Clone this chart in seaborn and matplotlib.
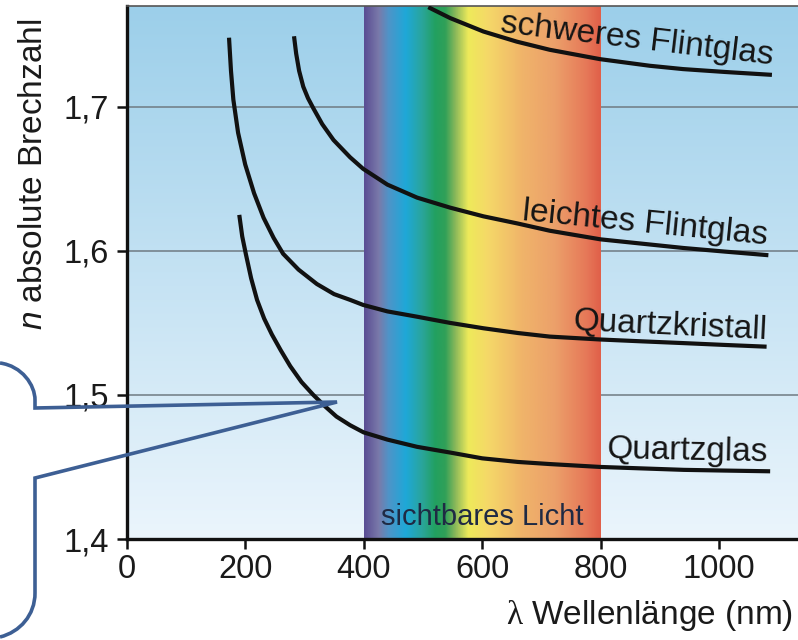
import numpy as np
import pandas as pd
import matplotlib
matplotlib.use("Agg")
import matplotlib.pyplot as plt
import seaborn as sns
from matplotlib.path import Path
from matplotlib.patches import PathPatch
from matplotlib.transforms import Affine2D
from matplotlib.colors import LinearSegmentedColormap

# ---------------- data ----------------
quartzglas_wl = [190, 195, 201, 210, 220, 232, 245, 260, 276, 295, 315, 335, 354, 377, 400,
                 440, 490, 546, 600, 660, 715, 800, 870, 940, 1010, 1086]
quartzglas_n = [1.625, 1.610, 1.598, 1.581, 1.566, 1.553, 1.542, 1.531, 1.520, 1.509, 1.500,
                1.492, 1.485, 1.479, 1.474, 1.469, 1.464, 1.460, 1.456, 1.4535, 1.452, 1.450,
                1.449, 1.448, 1.4475, 1.447]

quartzkristall_wl = [172.7, 176, 180, 188, 200, 215, 231, 248, 264, 290, 321, 350, 377, 399,
                     440, 489, 546, 602, 660, 714, 799, 870, 939, 1010, 1080]
quartzkristall_n = [1.748, 1.725, 1.705, 1.682, 1.660, 1.640, 1.623, 1.609, 1.598, 1.587,
                    1.577, 1.570, 1.566, 1.5625, 1.558, 1.5544, 1.5500, 1.5463, 1.543, 1.5405,
                    1.5385, 1.5372, 1.536, 1.5347, 1.5335]

leicht_wl = [282.4, 286, 291, 298, 306, 315, 330, 349, 377, 399, 440, 490, 546, 602, 660,
             714, 800, 870, 940, 1010, 1083]
leicht_n = [1.749, 1.737, 1.725, 1.714, 1.706, 1.699, 1.688, 1.677, 1.665, 1.657, 1.646,
            1.637, 1.630, 1.624, 1.619, 1.614, 1.608, 1.605, 1.602, 1.5995, 1.597]

schwer_wl = [509, 546, 602, 658, 714, 799, 883, 939, 1010, 1089]
schwer_n = [1.7692, 1.7616, 1.7523, 1.7453, 1.7396, 1.7331, 1.7285, 1.7262, 1.7242, 1.7222]

glass_names = ["Quartzglas", "Quartzkristall", "leichtes Flintglas", "schweres Flintglas"]
# label anchor (baseline centre) in data units and screen rotation
label_wl = [946, 917, 873, 860]
label_n = [1.4549, 1.5419, 1.6128, 1.7408]
label_rot = [-1.2, -2.7, -5.7, -6.8]

x_ticks = [0, 200, 400, 600, 800, 1000]
y_ticks = [1.4, 1.5, 1.6, 1.7]
y_tick_labels = ["1,4", "1,5", "1,6", "1,7"]

visible_range = [400, 800]
spectrum_nm = [400, 424, 441, 470, 498, 520, 537, 554, 576, 610, 667, 723, 777, 800]
spectrum_col = ["#5a4e94", "#7a7aaa", "#4e94c8", "#1ea8d8", "#2aa59a", "#22a060", "#30a058",
                "#8ab85a", "#eeea5a", "#f5d868", "#f0b46a", "#eca06a", "#e67858", "#e0604a"]

XMIN, XMAX = 0, 1133
YMIN, YMAX = 1.4, 1.770

# ---------------- style ----------------
sns.set_style("ticks")
plt.rcParams["font.family"] = ["Liberation Sans", "DejaVu Sans"]
plt.rcParams["mathtext.fontset"] = "custom"
plt.rcParams["mathtext.it"] = "Liberation Sans:italic"
plt.rcParams["mathtext.rm"] = "Liberation Serif"

W, H = 798, 640
fig = plt.figure(figsize=(W / 100, H / 100), dpi=100)
ax = fig.add_axes([126.7 / W, 1 - 539 / H, 1 - 126.7 / W, (539 - 6) / H])

# background gradient
bg = LinearSegmentedColormap.from_list("bg", ["#9ccfea", "#c4e2f3", "#ebf5fc"])
grad = np.linspace(0, 1, 256).reshape(-1, 1)
ax.imshow(grad, extent=[XMIN, XMAX, YMIN, YMAX], aspect="auto", cmap=bg,
          origin="upper", zorder=0, interpolation="bilinear")

# visible spectrum band
pos = [(v - visible_range[0]) / (visible_range[1] - visible_range[0]) for v in spectrum_nm]
spec = LinearSegmentedColormap.from_list("spec", list(zip(pos, spectrum_col)))
ax.imshow(np.linspace(0, 1, 600).reshape(1, -1), extent=[visible_range[0], visible_range[1], YMIN, YMAX],
          aspect="auto", cmap=spec, zorder=1, interpolation="bilinear")

# curves
series = [(quartzglas_wl, quartzglas_n), (quartzkristall_wl, quartzkristall_n),
          (leicht_wl, leicht_n), (schwer_wl, schwer_n)]
frames = []
for name, (wl, n) in zip(glass_names, series):
    frames.append(pd.DataFrame({"wl": wl, "n": n, "glas": name}))
df = pd.concat(frames, ignore_index=True)
for name in glass_names:
    sub = df[df["glas"] == name]
    sns.lineplot(data=sub, x="wl", y="n", ax=ax, color="#111111", lw=3.0,
                 estimator=None, sort=True, zorder=3, solid_capstyle="butt",
                 solid_joinstyle="round")

for name, lx, ly, r in zip(glass_names, label_wl, label_n, label_rot):
    ax.text(lx, ly, name, fontsize=24, rotation=r, rotation_mode="anchor",
            ha="center", va="baseline", color="#151515", zorder=4)

ax.text(600, 1.4097, "sichtbares Licht", fontsize=21, ha="center", va="baseline",
        color="#1f2a44", zorder=4)

ax.set_xlim(XMIN, XMAX)
ax.set_ylim(YMIN, YMAX)
ax.set_xticks(x_ticks)
ax.set_xticklabels([str(v) for v in x_ticks])
ax.set_yticks(y_ticks)
ax.set_yticklabels(y_tick_labels)
ax.grid(axis="y", color="#6f7a82", lw=1.1)
ax.set_xlabel("")
ax.set_ylabel("")

for s in ["left", "bottom"]:
    ax.spines[s].set_linewidth(2.4)
    ax.spines[s].set_color("#111111")
ax.spines["top"].set_linewidth(1.2)
ax.spines["top"].set_color("#555555")
ax.spines["right"].set_visible(False)
ax.tick_params(axis="both", direction="out", length=7, width=1.8, colors="#111111",
               labelsize=23.5, labelcolor="#1a1a1a")
ax.tick_params(axis="x", pad=4)
ax.tick_params(axis="y", pad=6)

# axis titles
fig.text(41.7 / W, 1 - 174 / H, "$n$ absolute Brechzahl", fontsize=24, rotation=90,
         rotation_mode="anchor", ha="center", va="baseline", color="#1a1a1a")
fig.text(793 / W, 1 - 624 / H, r"$\mathrm{\lambda}$ Wellenlänge (nm)", fontsize=24,
         ha="right", va="baseline", color="#1a1a1a")

# callout bracket (figure pixel coordinates, y downward)
verts = [(0, 363), (22, 366), (35, 385), (35, 400),
         (35, 408), (337, 402), (35, 478), (35, 593),
         (35, 615), (20, 632), (0, 637)]
codes = [Path.MOVETO, Path.CURVE4, Path.CURVE4, Path.CURVE4,
         Path.LINETO, Path.LINETO, Path.LINETO, Path.LINETO,
         Path.CURVE4, Path.CURVE4, Path.CURVE4]
px2fig = Affine2D().scale(1 / W, -1 / H).translate(0, 1) + fig.transFigure
callout = PathPatch(Path(verts, codes), facecolor="none", edgecolor="#3d5f94", lw=2.6,
                    transform=px2fig, clip_on=False, zorder=6, joinstyle="miter")
fig.add_artist(callout)

fig.savefig("out.png", dpi=100)
